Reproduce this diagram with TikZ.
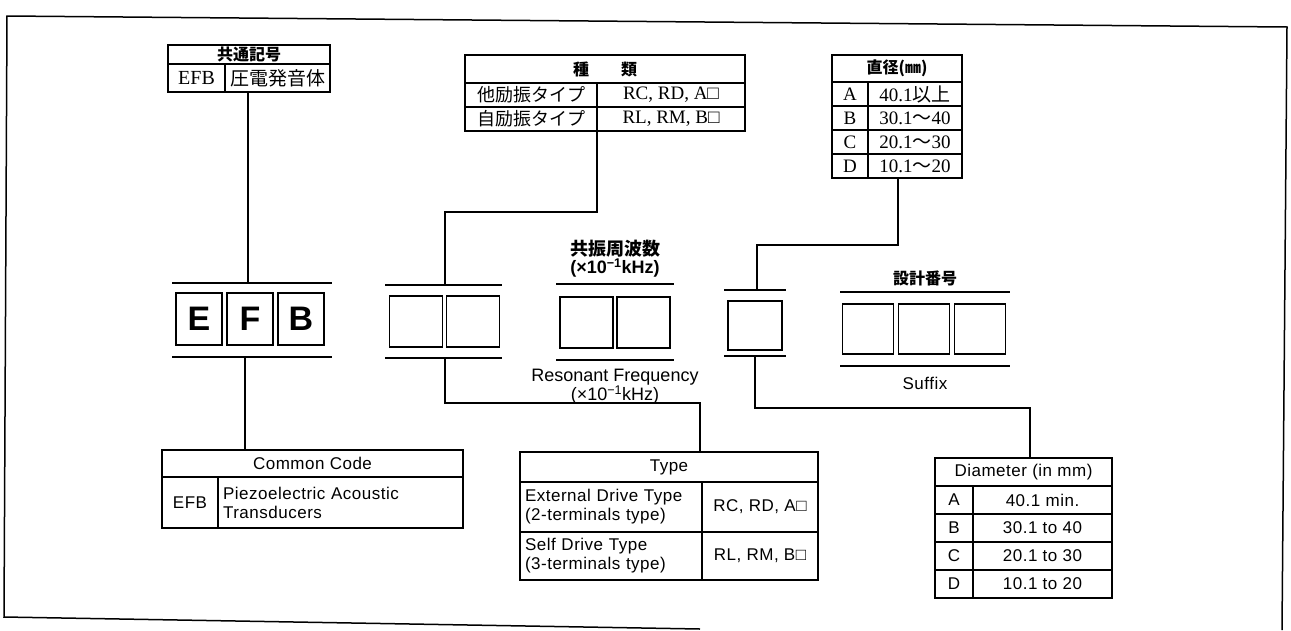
\documentclass[tikz,border=0pt]{standalone}
\usepackage{fontspec}
\setmainfont{Liberation Serif}
\setsansfont{Liberation Sans}
\newfontfamily\jpfont{Noto Sans CJK JP}
\newfontfamily\enfont[LetterSpace=3]{Liberation Sans}
\usepackage{tikz}
\usetikzlibrary{positioning}

\tikzset{
    tcell/.style={draw, line width=1.2pt, inner sep=0pt, outer sep=0pt},
    codebox/.style={draw, line width=1.3pt, inner sep=0pt, outer sep=0pt, minimum height=51pt,
        font=\sffamily\bfseries\fontsize{34}{34}\selectfont},
    rule/.style={line width=1.2pt},
    conn/.style={line width=1.2pt},
    jpf/.style={font=\jpfont\fontsize{18}{20}\selectfont},
    jpb/.style={font=\jpfont\bfseries\fontsize{16}{18}\selectfont},
    srf/.style={font=\rmfamily\fontsize{19}{21}\selectfont},
    enf/.style={font=\enfont\fontsize{17}{19}\selectfont},
    unitf/.style={font=\sffamily\fontsize{18}{20}\selectfont}
}

\begin{document}
\begin{tikzpicture}[x=1pt, y=-1pt]
                  \useasboundingbox (0,0) rectangle (1291,630);
                  \draw[line width=1.5pt] (700,629) -- (4,617) -- (7,16) -- (1287,27) -- (1282,630);

                  \node[tcell, jpb, minimum width=162pt, minimum height=19pt] (jphead) at (249,54.5) {共通記号};
                  \node[tcell, srf, font=\rmfamily\fontsize{20}{22}\selectfont, anchor=north west, minimum width=57pt, minimum height=28pt] (jpefb) at (jphead.south west) {EFB};
                  \node[tcell, jpf, font=\jpfont\fontsize{19}{21}\selectfont, right=0pt of jpefb, minimum width=105pt, minimum height=28pt] (jpname) {圧電発音体};

                  \node[tcell, jpb, minimum width=280pt, minimum height=28pt] (kdhead) at (605,69) {種\hspace{2em}類};
                  \node[tcell, jpf, anchor=north west, minimum width=132pt, minimum height=24pt] (kdext) at (kdhead.south west) {他励振タイプ};
                  \node[tcell, srf, right=0pt of kdext, minimum width=148pt, minimum height=24pt] (kdextc) {RC, RD, A□};
                  \node[tcell, jpf, below=0pt of kdext, minimum width=132pt, minimum height=24pt] (kdself) {自励振タイプ};
                  \node[tcell, srf, right=0pt of kdself, minimum width=148pt, minimum height=24pt] (kdselfc) {RL, RM, B□};

                  \node[tcell, jpb, minimum width=130pt, minimum height=27pt] (dihead) at (897,68.5) {直径(㎜)};
                  \foreach \lt/\val [count=\i] in {A/{40.1{\jpfont 以上}}, B/{30.1{\jpfont ～}40}, C/{20.1{\jpfont ～}30}, D/{10.1{\jpfont ～}20}} {
                      \node[tcell, srf, anchor=north west, minimum width=36pt, minimum height=24pt] (dil\i) at (832,{82+24*(\i-1)}) {\lt};
                      \node[tcell, srf, right=0pt of dil\i, minimum width=94pt, minimum height=24pt] (div\i) {\val};
                  }

                  \foreach \c [count=\i] in {E,F,B}
                      \node[codebox, minimum width=46pt, minimum height=52pt] (efb\i) at ({199+51*(\i-1)},319) {\c};
                  \draw[rule] (172,283) -- (332,283);
                  \draw[rule] (172,357) -- (332,357);

                  \foreach \i in {1,2}
                      \node[codebox, minimum width=53pt] (tp\i) at ({416+57*(\i-1)},321.5) {};
                  \draw[rule] (385,285) -- (502,285);
                  \draw[rule] (385,358) -- (502,358);

                  \foreach \i in {1,2}
                      \node[codebox, minimum width=53pt] (rf\i) at ({586.5+57*(\i-1)},322.5) {};
                  \draw[rule] (556,284) -- (674,284);
                  \draw[rule] (556,360) -- (674,360);
                  \node[jpb, font=\jpfont\bfseries\fontsize{18}{20}\selectfont] (rfjp) at (615,249) {共振周波数};
                  \node[unitf, font=\sffamily\bfseries\fontsize{18}{20}\selectfont] (rfunit) at (615,268) {(×10\textsuperscript{−1}kHz)};
                  \node[unitf] (rfen) at (615,377) {Resonant Frequency};
                  \node[unitf] (rfen2) at (615,395) {(×10\textsuperscript{−1}kHz)};

                  \node[codebox, minimum width=54pt, minimum height=49pt] (sn) at (755,325.5) {};
                  \draw[rule] (724,290) -- (786,290);
                  \draw[rule] (724,356) -- (786,356);

                  \foreach \i in {1,2,3}
                      \node[codebox, minimum width=51pt, minimum height=50pt] (sf\i) at ({868+56*(\i-1)},329) {};
                  \draw[rule] (840,292) -- (1010,292);
                  \draw[rule] (840,366) -- (1010,366);
                  \node[jpb] (sfjp) at (925,278) {設計番号};
                  \node[enf] (sfen) at (925,383) {Suffix};

                  \node[tcell, enf, minimum width=301pt, minimum height=27pt] (cchead) at (312.5,463.5) {Common Code};
                  \node[tcell, enf, anchor=north west, minimum width=56pt, minimum height=51pt] (ccefb) at (cchead.south west) {EFB};
                  \node[tcell, enf, right=0pt of ccefb, minimum height=51pt, text width=235pt, inner xsep=5pt, align=left] (ccname) {Piezoelectric Acoustic\\Transducers};

                  \node[tcell, enf, minimum width=298pt, minimum height=30pt] (tyhead) at (669,467) {Type};
                  \node[tcell, enf, anchor=north west, text width=172pt, inner xsep=5pt, align=left, minimum height=50pt] (tyext) at (tyhead.south west) {External Drive Type\\(2-terminals type)};
                  \node[tcell, enf, right=0pt of tyext, minimum width=116pt, minimum height=50pt] (tyextc) {RC, RD, A□};
                  \node[tcell, enf, below=0pt of tyext, text width=172pt, inner xsep=5pt, align=left, minimum height=48pt] (tyself) {Self Drive Type\\(3-terminals type)};
                  \node[tcell, enf, right=0pt of tyself, minimum width=116pt, minimum height=48pt] (tyselfc) {RL, RM, B□};

                  \node[tcell, enf, minimum width=177pt, minimum height=28pt] (dmhead) at (1023.5,472) {Diameter (in mm)};
                  \foreach \lt/\val [count=\i] in {A/40.1 min., B/30.1 to 40, C/20.1 to 30, D/10.1 to 20} {
                      \node[tcell, enf, anchor=north west, minimum width=38pt, minimum height=28pt] (dml\i) at (935,{486+28*(\i-1)}) {\lt};
                      \node[tcell, enf, right=0pt of dml\i, minimum width=139pt, minimum height=28pt] (dmv\i) {\val};
                  }

                  \coordinate (efbup) at (248,283);
                  \draw[conn] (efbup) -- (efbup |- jpname.south);
                  \coordinate (tpup) at (445,285);
                  \draw[conn] (tpup) -- ++(0,-73) -| (kdself.south east);
                  \coordinate (snup) at (757,290);
                  \path (div4.south west) ++(30,0) coordinate (diout);
                  \draw[conn] (snup) -- ++(0,-45) -| (diout);

                  \coordinate (efbdn) at (245,357);
                  \draw[conn] (efbdn) -- (efbdn |- cchead.north);
                  \coordinate (tpdn) at (445,358);
                  \path (tyhead.north west) ++(180,0) coordinate (tyin);
                  \draw[conn] (tpdn) -- ++(0,45) -| (tyin);
                  \coordinate (sndn) at (755,356);
                  \path (dmhead.north west) ++(95,0) coordinate (dmin);
                  \draw[conn] (sndn) -- ++(0,52) -| (dmin);
              \end{tikzpicture}
\end{document}
